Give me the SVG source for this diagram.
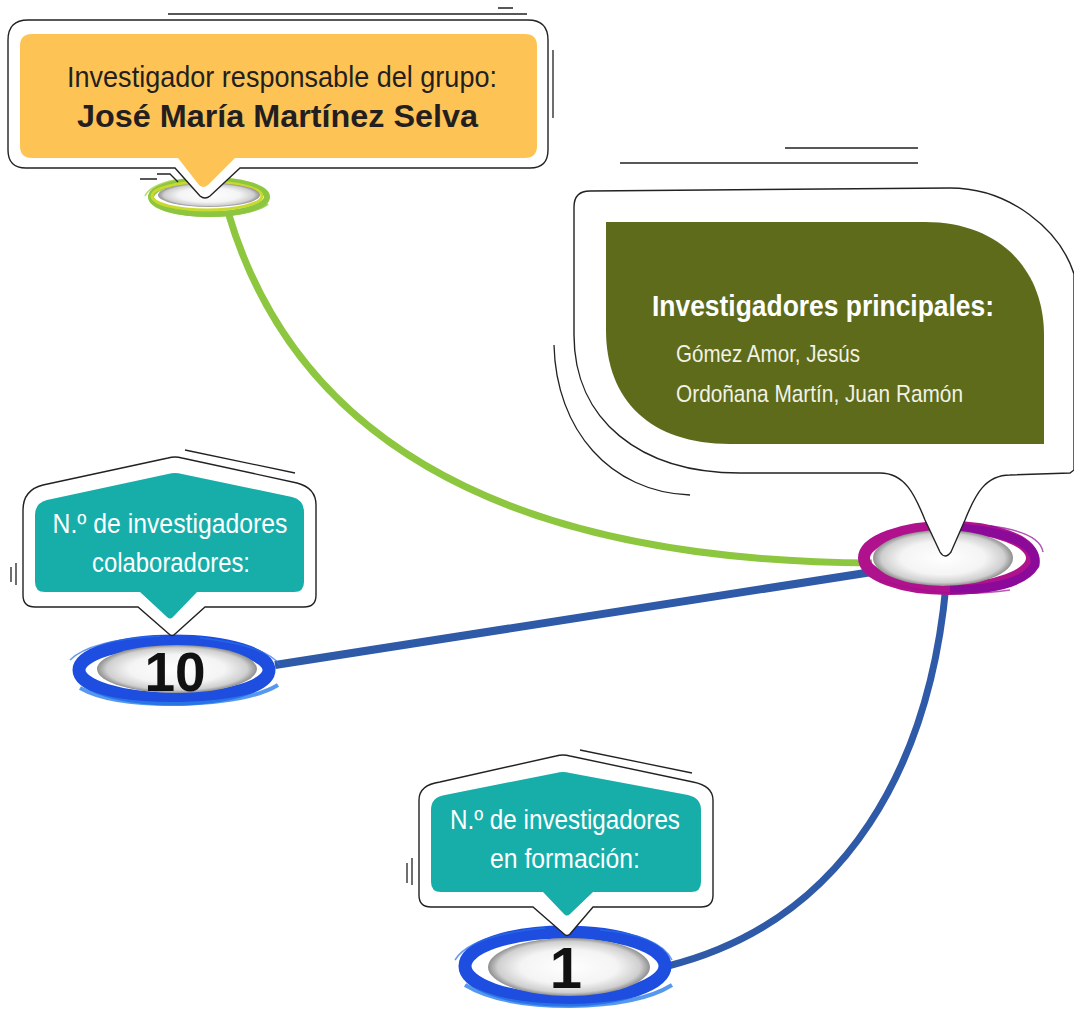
<svg xmlns="http://www.w3.org/2000/svg" width="1074" height="1011" viewBox="0 0 1074 1011">
<defs>
<radialGradient id="hole" cx="50%" cy="50%" r="50%">
<stop offset="0" stop-color="#ffffff"/>
<stop offset="0.6" stop-color="#f4f4f4"/>
<stop offset="0.88" stop-color="#cfcfcf"/>
<stop offset="1" stop-color="#8f8f8f"/>
</radialGradient>
<style>
.ol{fill:#fff;stroke:#222;stroke-width:1.4}
.ln{fill:none;stroke:#222;stroke-width:1.3}
.teal{fill:#17aeaa}
.cond{font-family:"Liberation Sans Narrow","Liberation Sans",Arial,sans-serif}
.wt{fill:#fff}
.bk{fill:#231f20}
.hole{fill:url(#hole)}
.num{font-family:"Liberation Sans",Arial,sans-serif;font-weight:bold;fill:#111}
</style>
</defs>
<rect width="1074" height="1011" fill="#fff"/>

<g id="connectors">
<path d="M228 212 Q330 560 872 563" fill="none" stroke="#8dc63f" stroke-width="7"/>
<path d="M275 665 L872 572" fill="none" stroke="#2e5aa7" stroke-width="8"/>
<path d="M946 585 C930 760 850 920 668 966" fill="none" stroke="#2e5aa7" stroke-width="7"/>
</g>

<g id="ring-top">
<ellipse cx="209" cy="197" rx="58" ry="17" fill="none" stroke="#8dc63f" stroke-width="6"/>
<ellipse cx="207" cy="196" rx="55" ry="14" fill="none" stroke="#c9d92e" stroke-width="3"/>
<path d="M150 200 Q160 216 215 216 Q255 214 268 204" fill="none" stroke="#8dc63f" stroke-width="2" opacity="0.8"/>
<path d="M145 196 Q150 185 175 180" fill="none" stroke="#a8cf45" stroke-width="1.5" opacity="0.8"/>
<ellipse cx="209" cy="195" rx="51" ry="12" class="hole"/>
</g>

<g id="ring-main">
<ellipse cx="948" cy="558" rx="84" ry="31" fill="none" stroke="#b0128e" stroke-width="12"/>
<path d="M960 528 Q1040 535 1035 565 Q1020 590 950 590" fill="none" stroke="#8b0a9a" stroke-width="9"/>
<path d="M880 580 Q940 600 1010 590" fill="none" stroke="#a0108f" stroke-width="1.5" opacity="0.7"/>
<path d="M990 526 Q1040 532 1043 552" fill="none" stroke="#8b0a9a" stroke-width="1.5" opacity="0.7"/>
<ellipse cx="943" cy="558" rx="70" ry="28" class="hole"/>
</g>

<g id="ring-colab">
<ellipse cx="174" cy="670" rx="95" ry="29" fill="none" stroke="#1e4ee0" stroke-width="13"/>
<path d="M80 688 Q110 705 180 704 Q250 702 278 685" fill="none" stroke="#2a7ee8" stroke-width="4" opacity="0.8"/>
<path d="M70 660 Q90 640 160 636" fill="none" stroke="#2a6ee8" stroke-width="1.5" opacity="0.7"/>
<path d="M200 638 Q265 645 280 665" fill="none" stroke="#2a6ee8" stroke-width="1.5" opacity="0.7"/>
<ellipse cx="177" cy="669" rx="80" ry="24" class="hole"/>
<text x="175" y="691" text-anchor="middle" class="num" font-size="55">10</text>
</g>

<g id="ring-form">
<ellipse cx="565" cy="966" rx="100" ry="34" fill="none" stroke="#1e4ee0" stroke-width="13"/>
<path d="M465 985 Q500 1006 570 1006 Q640 1005 672 985" fill="none" stroke="#2a7ee8" stroke-width="4" opacity="0.8"/>
<path d="M455 960 Q470 935 545 928" fill="none" stroke="#2a6ee8" stroke-width="1.5" opacity="0.7"/>
<path d="M600 930 Q660 935 672 960" fill="none" stroke="#2a6ee8" stroke-width="1.5" opacity="0.7"/>
<ellipse cx="569" cy="967" rx="81" ry="29" class="hole"/>
<text x="566" y="988" text-anchor="middle" class="num" font-size="58">1</text>
</g>

<g id="node-responsable">
<path class="ln" d="M168 14 L527 14 M498 8 L513 8 M553 50 L553 118 M140 179 L157 179 M157 174 L170 174 L178 182"/>
<path class="ol" d="M28 20 L528 20 Q548 20 548 40 L548 150 Q548 168 530 168 L240 168 L210 196 Q205 200 200 196 L175 168 L26 168 Q8 168 8 150 L8 40 Q8 20 28 20 Z"/>
<path fill="#fec355" d="M32 34 L525 34 Q537 34 537 46 L537 146 Q537 158 525 158 L235 158 L208 185 Q203 189 199 185 L178 158 L32 158 Q20 158 20 146 L20 46 Q20 34 32 34 Z"/>
<text x="67" y="87" class="cond bk" font-size="30" textLength="430" lengthAdjust="spacingAndGlyphs">Investigador responsable del grupo:</text>
<text x="77" y="127" class="bk" font-family="Liberation Sans,Arial,sans-serif" font-weight="bold" font-size="31" textLength="401" lengthAdjust="spacingAndGlyphs">José María Martínez Selva</text>
</g>

<g id="node-principales">
<path class="ln" d="M785 148 L918 148 M620 163 L918 163 M554 345 C556 430 610 492 690 495"/>
<path class="ol" d="M1074 274 C1060 230 1010 188 950 188 L590 191 Q574 191 574 207 L574 335 C574 420 640 473 740 473 L880 473 C905 473 915 495 925 520 L940 552 Q945 560 951 552 L965 520 C975 495 985 475 1010 475 L1070 473 L1074 470 Z"/>
<path fill="#5d6b1b" d="M606 222 L925 222 C1000 222 1044 270 1044 335 L1044 444 L730 444 C650 444 606 400 606 330 Z"/>
<text x="652" y="316" class="cond wt" font-weight="bold" font-size="30" textLength="342" lengthAdjust="spacingAndGlyphs">Investigadores principales:</text>
<text x="676" y="362" class="cond" fill="#f2f2e6" font-size="24" textLength="184" lengthAdjust="spacingAndGlyphs">Gómez Amor, Jesús</text>
<text x="676" y="402" class="cond" fill="#f2f2e6" font-size="24" textLength="287" lengthAdjust="spacingAndGlyphs">Ordoñana Martín, Juan Ramón</text>
</g>

<g id="node-colaboradores">
<path class="ln" d="M185 450 L295 473 M11 567 L11 582 M16 563 L16 585"/>
<path class="ol" d="M23 510 Q23 490 43 485 L168 458 Q175 456 182 458 L297 483 Q316 488 316 505 L316 595 Q316 607 304 607 L205 607 L175 634 Q172 637 169 634 L138 607 L35 607 Q23 607 23 595 Z"/>
<path class="teal" d="M35 515 Q35 503 47 500 L168 474 Q175 472 182 474 L292 497 Q304 500 304 512 L304 582 Q304 592 294 592 L197 592 L173 617 Q170 620 167 617 L140 592 L45 592 Q35 592 35 582 Z"/>
<text x="170" y="533" text-anchor="middle" class="cond wt" font-size="28" textLength="235" lengthAdjust="spacingAndGlyphs">N.º de investigadores</text>
<text x="171" y="572" text-anchor="middle" class="cond wt" font-size="28" textLength="158" lengthAdjust="spacingAndGlyphs">colaboradores:</text>
</g>

<g id="node-formacion">
<path class="ln" d="M580 750 L692 773 M407 863 L407 883 M412 858 L412 885"/>
<path class="ol" d="M419 800 Q419 785 440 782 L556 756 Q563 754 570 756 L693 782 Q713 786 713 800 L713 895 Q713 907 701 907 L593 907 L570 934 Q567 937 564 934 L533 907 L431 907 Q419 907 419 895 Z"/>
<path class="teal" d="M431 810 Q431 797 445 795 L556 773 Q563 771 570 773 L688 795 Q701 798 701 810 L701 882 Q701 892 691 892 L593 892 L570 914 Q567 917 564 914 L543 892 L441 892 Q431 892 431 882 Z"/>
<text x="565" y="829" text-anchor="middle" class="cond wt" font-size="28" textLength="230" lengthAdjust="spacingAndGlyphs">N.º de investigadores</text>
<text x="565" y="868" text-anchor="middle" class="cond wt" font-size="28" textLength="150" lengthAdjust="spacingAndGlyphs">en formación:</text>
</g>
</svg>
